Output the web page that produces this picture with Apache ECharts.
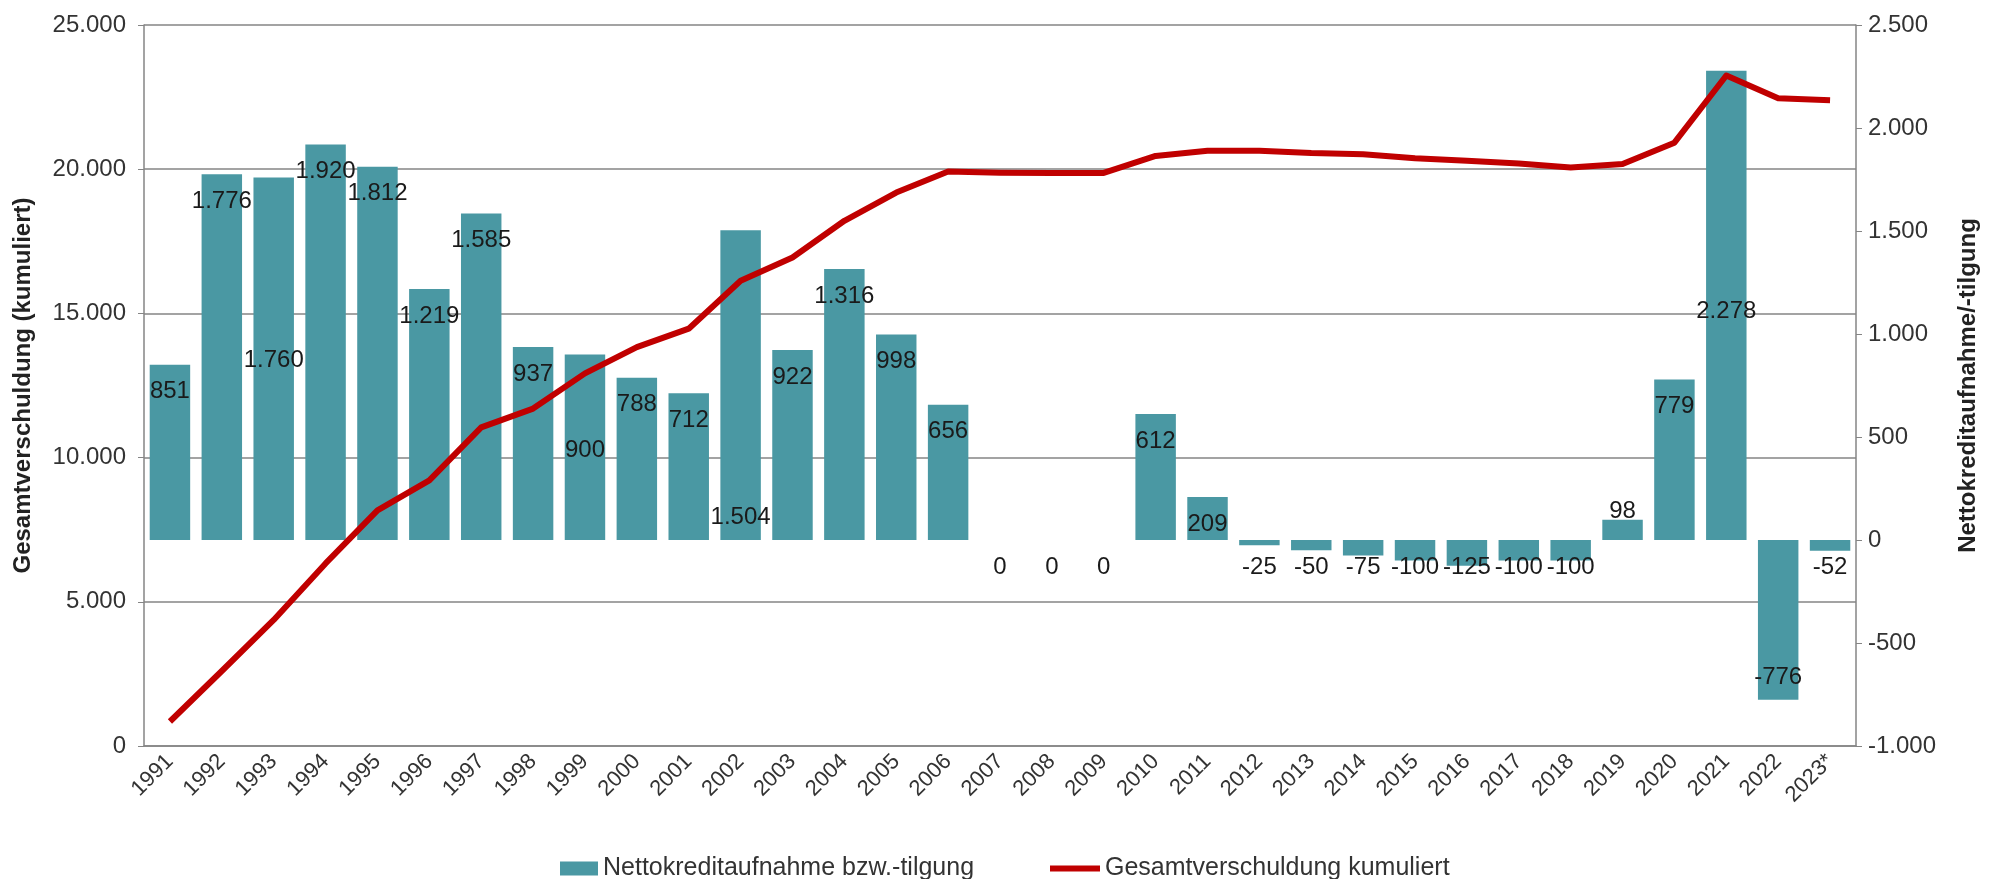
<!DOCTYPE html>
<html lang="de">
<head>
    <meta charset="UTF-8">
    <title>Nettokreditaufnahme und Gesamtverschuldung</title>
    <script src="https://cdn.jsdelivr.net/npm/echarts@6/dist/echarts.min.js"></script>
    <style>
        html, body { margin: 0; padding: 0; background: #fff; }
        #chart { width: 1993px; height: 879px; }
    </style>
</head>
<body>
    <div id="chart"></div>

    <script>
        // Jahre (x-Achse)
        const years = ['1991', '1992', '1993', '1994', '1995', '1996', '1997', '1998', '1999', '2000',
            '2001', '2002', '2003', '2004', '2005', '2006', '2007', '2008', '2009', '2010',
            '2011', '2012', '2013', '2014', '2015', '2016', '2017', '2018', '2019', '2020',
            '2021', '2022', '2023*'];

        // Nettokreditaufnahme bzw. -tilgung (rechte Achse)
        const netBorrowing = [851, 1776, 1760, 1920, 1812, 1219, 1585, 937, 900, 788,
            712, 1504, 922, 1316, 998, 656, 0, 0, 0, 612,
            209, -25, -50, -75, -100, -125, -100, -100, 98, 779,
            2278, -776, -52];

        // Gesamtverschuldung kumuliert (linke Achse)
        const totalDebt = [850, 2600, 4370, 6330, 8170, 9210, 11050, 11700, 12920, 13830,
            14470, 16130, 16940, 18210, 19190, 19920, 19880, 19870, 19870, 20460,
            20640, 20640, 20560, 20520, 20380, 20290, 20200, 20060, 20180, 20920,
            23250, 22460, 22390];

        // Achsenbereiche
        const leftMin = 0, leftMax = 25000, leftStep = 5000;
        const rightMin = -1000, rightMax = 2500, rightStep = 500;

        const barName = 'Nettokreditaufnahme bzw.-tilgung';
        const lineName = 'Gesamtverschuldung kumuliert';

        // Tausenderpunkt wie im Original
        function fmt(v) {
            const s = String(Math.abs(v)).replace(/\B(?=(\d{3})+(?!\d))/g, '.');
            return (v < 0 ? '-' : '') + s;
        }

        const grid = { left: 144, right: 137, top: 25, bottom: 133 };
        const plotHeight = 879 - grid.top - grid.bottom;
        const pxPerUnit = plotHeight / (rightMax - rightMin);

        // einige Beschriftungen sitzen im Original verrutscht
        const labelNudge = { '1993': 156, '1999': 69, '2002': 260, '2021': 214 };

        function barLabel(v, year) {
            let label;
            if (v >= 150) label = { position: 'insideTop', distance: 15 };
            else if (v > 0) label = { position: 'top', distance: -4 };
            else if (v > -200) {
                // kleine Werte: Beschriftung auf gemeinsamer Hoehe unter der Nulllinie
                label = { position: 'bottom', distance: 15 - Math.abs(v) * pxPerUnit };
            }
            else label = { position: 'insideBottom', distance: 10 };
            if (labelNudge[year]) label.offset = [0, labelNudge[year]];
            return label;
        }

        const chart = echarts.init(document.getElementById('chart'));
        const axisColor = '#858585';
        const textColor = '#333333';
        const font = 'Liberation Sans, Arial, sans-serif';
        const legendText = { fontSize: 25, color: textColor, fontFamily: font };

        const option = {
            animation: false,
            textStyle: { fontFamily: font },
            grid: grid,
            legend: [
                {
                    left: 555,
                    top: 851,
                    itemWidth: 38,
                    itemHeight: 14,
                    textStyle: legendText,
                    data: [{ name: barName, icon: 'rect' }]
                },
                {
                    left: 1045,
                    top: 851,
                    itemWidth: 50,
                    itemHeight: 6,
                    textStyle: legendText,
                    data: [{ name: lineName, icon: 'rect' }]
                }
            ],
            xAxis: {
                type: 'category',
                data: years,
                axisLine: { lineStyle: { color: axisColor, width: 1.5 } },
                axisTick: { lineStyle: { color: axisColor }, length: 6 },
                axisLabel: { rotate: 45, fontSize: 22, color: textColor, margin: 12 }
            },
            yAxis: [
                {
                    type: 'value',
                    min: leftMin,
                    max: leftMax,
                    interval: leftStep,
                    name: 'Gesamtverschuldung (kumuliert)',
                    nameLocation: 'middle',
                    nameGap: 109,
                    nameTextStyle: { fontSize: 24, fontWeight: 'bold', color: '#222' },
                    axisLine: { show: true, lineStyle: { color: axisColor, width: 1.5 } },
                    axisTick: { show: true, lineStyle: { color: axisColor }, length: 6 },
                    axisLabel: { fontSize: 24, color: textColor, margin: 18, formatter: fmt },
                    splitLine: { lineStyle: { color: axisColor, width: 1.5 } }
                },
                {
                    type: 'value',
                    min: rightMin,
                    max: rightMax,
                    interval: rightStep,
                    position: 'right',
                    name: 'Nettokreditaufnahme/-tilgung',
                    nameLocation: 'middle',
                    nameGap: 100,
                    nameTextStyle: { fontSize: 24, fontWeight: 'bold', color: '#222' },
                    axisLine: { show: true, lineStyle: { color: axisColor, width: 1.5 } },
                    axisTick: { show: true, lineStyle: { color: axisColor }, length: 6 },
                    axisLabel: { fontSize: 24, color: textColor, margin: 12, formatter: fmt },
                    splitLine: { show: false }
                }
            ],
            series: [
                {
                    name: barName,
                    type: 'bar',
                    yAxisIndex: 1,
                    barCategoryGap: '22%',
                    itemStyle: { color: '#4a98a3' },
                    label: {
                        show: true,
                        fontSize: 24,
                        color: '#1a1a1a',
                        formatter: p => fmt(p.value)
                    },
                    data: netBorrowing.map((v, i) => ({ value: v, label: barLabel(v, years[i]) }))
                },
                {
                    name: lineName,
                    type: 'line',
                    yAxisIndex: 0,
                    symbol: 'none',
                    lineStyle: { color: '#c00000', width: 6, join: 'round' },
                    itemStyle: { color: '#c00000' },
                    data: totalDebt
                }
            ]
        };

        chart.setOption(option);
    </script>
</body>
</html>
